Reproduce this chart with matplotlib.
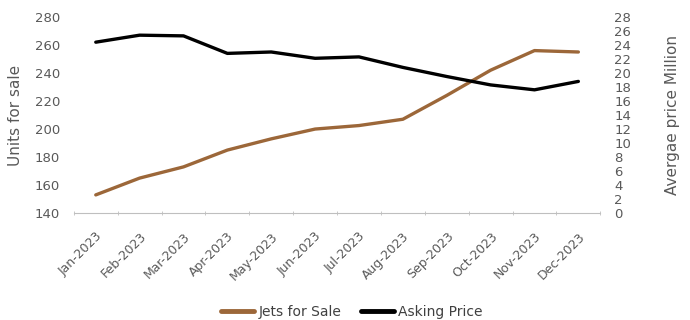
import matplotlib.pyplot as plt
import numpy as np

plt.rcParams['font.family'] = ['Liberation Sans Narrow', 'DejaVu Sans']

## Data
months = ['Jan-2023', 'Feb-2023', 'Mar-2023', 'Apr-2023', 'May-2023', 'Jun-2023',
          'Jul-2023', 'Aug-2023', 'Sep-2023', 'Oct-2023', 'Nov-2023', 'Dec-2023']
jets_for_sale = [153, 165, 173, 185, 193, 200, 202.5, 207, 224, 242, 256, 255]
asking_price = [24.4, 25.4, 25.3, 22.8, 23.0, 22.1, 22.3, 20.8, 19.5, 18.3, 17.6, 18.8]

brown = '#9c6739'
grey = '#595959'

fig = plt.figure(figsize=(6.9, 3.2), dpi=100)
ax = fig.add_axes([0.107, 0.334, 0.763, 0.613])
ax2 = ax.twinx()

x = np.arange(len(months))
ax.plot(x, jets_for_sale, color=brown, lw=2.4, label='Jets for Sale', solid_capstyle='round')
ax2.plot(x, asking_price, color='black', lw=2.4, label='Asking Price', solid_capstyle='round')

## Axes setup
ax.set_xlim(-0.5, len(months) - 0.5)
ax.set_ylim(140, 280)
ax.set_yticks(np.arange(140, 281, 20))
ax2.set_ylim(0, 28)
ax2.set_yticks(np.arange(0, 29, 2))

ax.set_xticks(x)
ax.set_xticklabels(months, rotation=45, ha='right', rotation_mode='anchor')
ax.set_xticks(np.arange(-0.5, len(months)), minor=True)
ax.tick_params(axis='x', which='major', length=0, pad=12, labelsize=9, labelcolor=grey)
ax.tick_params(axis='x', which='minor', length=3, direction='inout', color='#bfbfbf')
ax.tick_params(axis='y', length=0, labelsize=9.5, labelcolor=grey, pad=10)
ax2.tick_params(axis='y', length=0, labelsize=9.5, labelcolor=grey, pad=10)

for a in (ax, ax2):
    for s in a.spines.values():
        s.set_visible(False)
ax.spines['bottom'].set_visible(True)
ax.spines['bottom'].set_color('#bfbfbf')

ax.set_ylabel('Units for sale', fontsize=11, color=grey, labelpad=8)
ax2.set_ylabel('Avergae price Million', fontsize=11, color=grey, labelpad=24)

## Legend
h1, l1 = ax.get_legend_handles_labels()
h2, l2 = ax2.get_legend_handles_labels()
leg = fig.legend(h1 + h2, l1 + l2, loc='center', bbox_to_anchor=(0.51, 0.025), ncol=2,
                 frameon=False, fontsize=10, labelcolor='#404040', handlelength=2.4,
                 handletextpad=0.3, columnspacing=1.4, borderpad=0)
for line in leg.get_lines():
    line.set_linewidth(3.5)

plt.savefig('out.png', dpi=100)
